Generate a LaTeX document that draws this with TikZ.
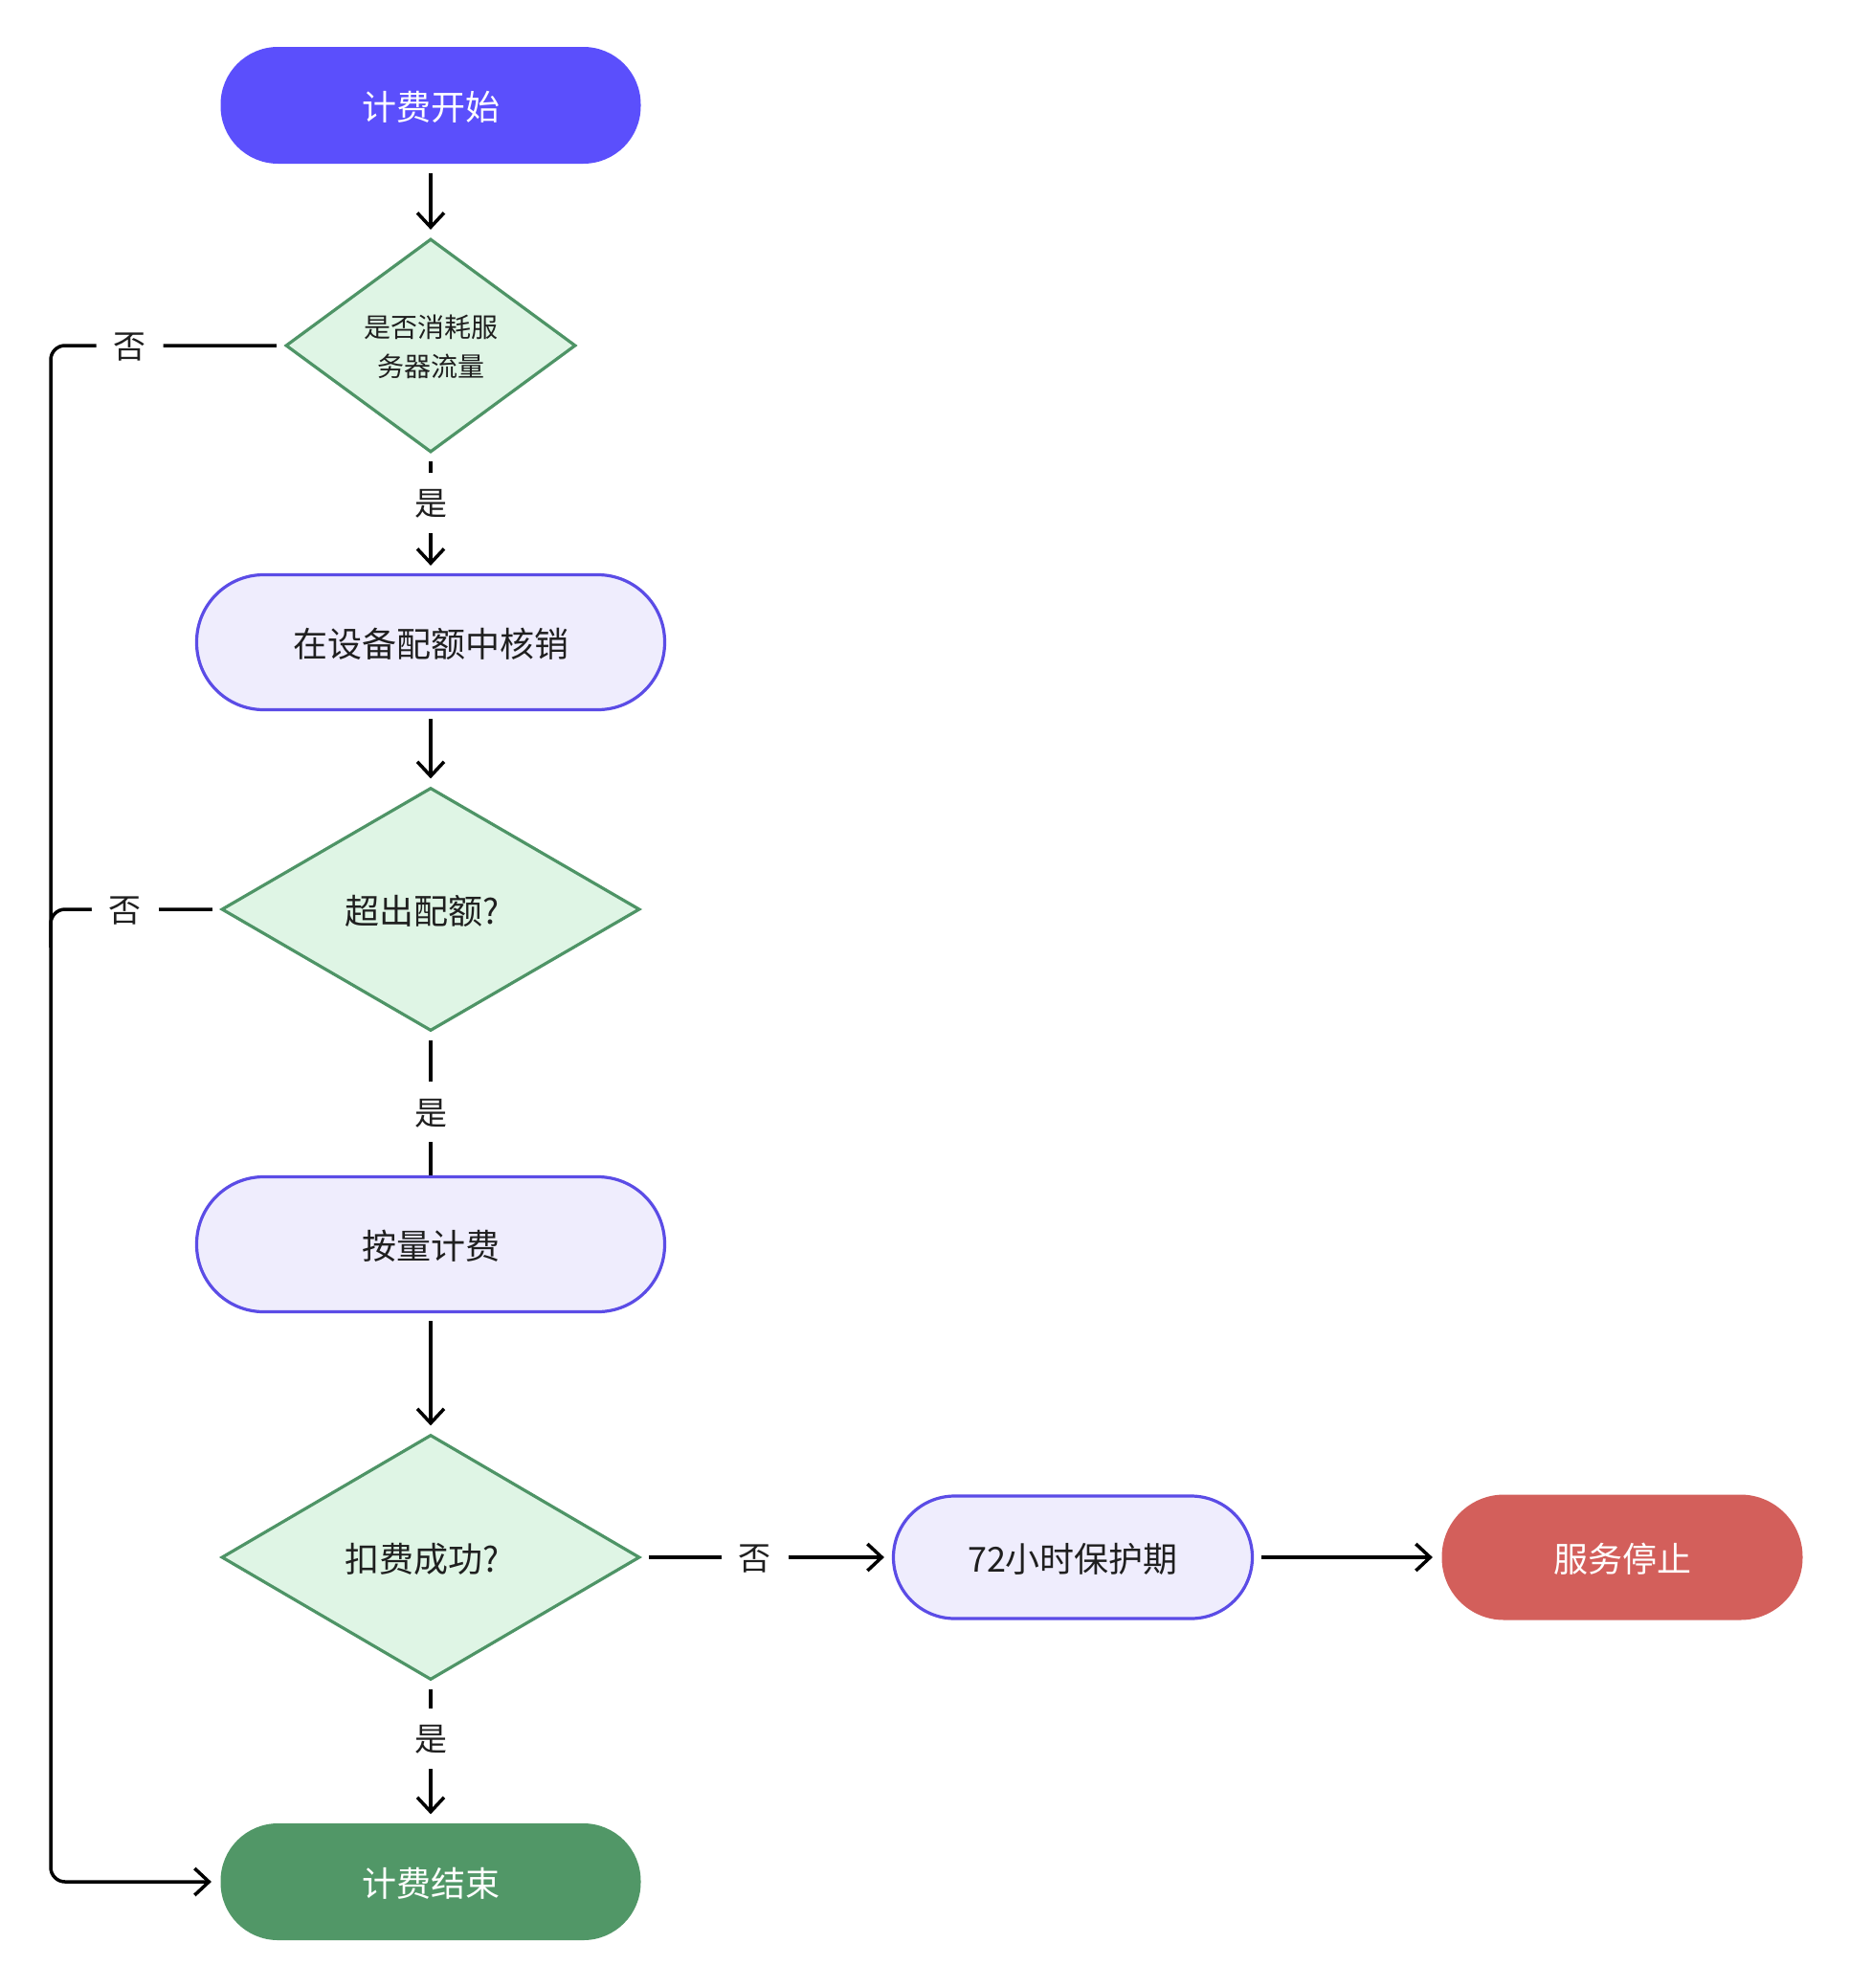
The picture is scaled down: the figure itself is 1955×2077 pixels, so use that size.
\documentclass[tikz,border=0pt]{standalone}
\usepackage{fontspec}
\setmainfont{Noto Sans CJK SC}
\usetikzlibrary{shapes.geometric,arrows.meta}
\definecolor{startc}{HTML}{5B4FFC}
\definecolor{endc}{HTML}{519767}
\definecolor{stopc}{HTML}{D35F5B}
\definecolor{procfill}{HTML}{EFEDFD}
\definecolor{procline}{HTML}{5B4CE6}
\definecolor{decfill}{HTML}{DFF5E5}
\definecolor{decline}{HTML}{4E9466}
\definecolor{txt}{HTML}{1F1F1F}
\begin{document}
\begin{tikzpicture}[x=1pt,y=-1pt,
  base/.style={font=\fontsize{36}{43}\selectfont, inner sep=0pt, line width=3.2pt, text depth=0pt},
  term/.style={base, rectangle, rounded corners=60pt, minimum width=439pt, minimum height=122pt, text=white},
  proc/.style={base, rectangle, draw=procline, fill=procfill, text=txt, minimum width=489pt, minimum height=141pt, rounded corners=70pt},
  dec/.style={base, diamond, draw=decline, fill=decfill, text=txt},
  conn/.style={line width=3.5pt, -{Straight Barb[length=15pt,width=28pt]}, shorten >=8pt, shorten <=8pt},
  lbl/.style={fill=white, inner xsep=18pt, inner ysep=18pt, text depth=0pt, font=\fontsize{34}{40}\selectfont, text=txt}]
\fill[white] (0,0) rectangle (1955,2077);
\useasboundingbox (0,0) rectangle (1955,2077);

\node[term, fill=startc] (start) at (450,110) {计费开始};
\node[dec, minimum width=303pt, minimum height=223pt, font=\fontsize{28}{41}\selectfont, align=center] (d1) at (450,361) {是否消耗服\\务器流量};
\node[proc] (b2) at (450,671) {在设备配额中核销};
\node[dec, minimum width=437pt, minimum height=254pt] (d2) at (450,950) {超出配额?\hspace*{18pt}};
\node[proc] (b3) at (450,1300) {按量计费};
\node[dec, minimum width=437pt, minimum height=256pt] (d3) at (450,1627) {扣费成功?\hspace*{18pt}};
\node[proc, minimum width=375pt, minimum height=128pt, rounded corners=64pt] (b4) at (1121,1627) {72小时保护期};
\node[term, fill=stopc, minimum width=377pt, minimum height=131pt, rounded corners=65pt] (b5) at (1695,1627) {服务停止};
\node[term, fill=endc] (end) at (450,1966) {计费结束};
\coordinate (lp) at (53,361);

\draw[conn] (start) -- (d1);
\draw[conn] (d1.south) -- node[lbl,pos=.41]{是} (b2.north);
\draw[conn] (b2) -- (d2);
\draw[conn, -, shorten >=0pt] (d2.south) -- node[lbl,pos=.556]{是} (b3.north);
\draw[conn] (b3) -- (d3);
\draw[conn] (d3.south) -- node[lbl,pos=.407]{是} (end.north);
\draw[conn] (d3.east) -- node[lbl,pos=.453]{否} (b4.west);
\draw[conn] (b4) -- (b5);
\draw[conn, -, rounded corners=15pt, shorten >=0pt] (d2.west) -- node[lbl,pos=.56]{否} (d2.west -| lp) -- ++(0,40);
\draw[conn, rounded corners=15pt] (d1.west) -- node[lbl,pos=.661]{否} (d1.west -| lp) -- (end.west -| lp) -- (end.west);
\end{tikzpicture}
\end{document}
